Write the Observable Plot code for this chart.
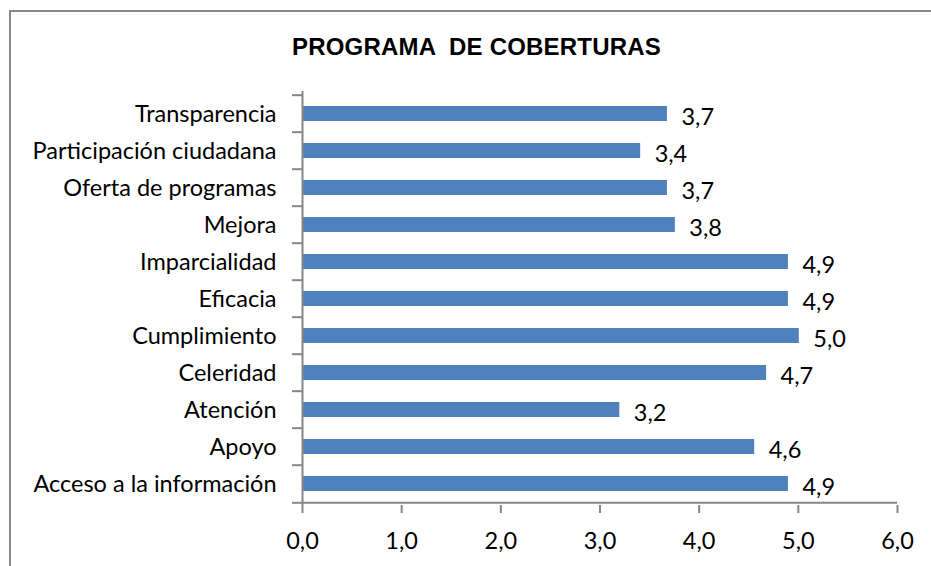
<!DOCTYPE html>
<html>
<head>
<meta charset="utf-8">
<script src="https://cdn.jsdelivr.net/npm/d3@7"></script>
<script src="https://cdn.jsdelivr.net/npm/@observablehq/plot@0.6"></script>
<style>
  html, body { margin: 0; padding: 0; background: #fff; }
  #wrap { position: relative; width: 931px; height: 566px; overflow: hidden; }
  #border { position: absolute; left: 9px; top: 10px; width: 1000px; height: 700px;
            border-left: 2px solid #878787; border-top: 2px solid #878787; box-sizing: border-box; }
  #title { position: absolute; left: 0; width: 953px; top: 33px; text-align: center;
           font-family: "Liberation Sans", Arial, sans-serif; font-weight: bold; font-size: 24px;
           letter-spacing: 0.2px; color: #000; white-space: pre; line-height: 28px; }
  #chart { position: absolute; left: 0; top: 0; }
</style>
</head>
<body>
<div id="wrap">
  <div id="border"></div>
  <div id="title"></div>
  <div id="chart"></div>
</div>
<script>
const title = "PROGRAMA  DE COBERTURAS";
const categories = [
  "Transparencia",
  "Participación ciudadana",
  "Oferta de programas",
  "Mejora",
  "Imparcialidad",
  "Eficacia",
  "Cumplimiento",
  "Celeridad",
  "Atención",
  "Apoyo",
  "Acceso a la información"
];
const values = [3.68, 3.41, 3.68, 3.76, 4.90, 4.90, 5.01, 4.68, 3.20, 4.56, 4.90];
const xTicks = [0, 1, 2, 3, 4, 5, 6];

document.getElementById("title").textContent = title;

const data = categories.map((c, i) => ({category: c, value: values[i]}));
const fmt = v => v.toFixed(1).replace(".", ",");

const W = 931, H = 566, mL = 302, mR = 34, mT = 91, mB = 61;
const step = (H - mT - mB) / categories.length;
const axisGray = "#868686";
const last = categories[categories.length - 1];

const chart = Plot.plot({
  width: W, height: H,
  marginLeft: mL, marginRight: mR, marginTop: mT, marginBottom: mB,
  style: {fontFamily: "Lato, sans-serif", fontSize: "24px", color: "#000", background: "transparent"},
  x: {domain: [xTicks[0], xTicks[xTicks.length - 1]], label: null},
  y: {domain: categories, paddingInner: 0.6, paddingOuter: 0.3, label: null},
  marks: [
    Plot.barX(data, {x: "value", y: "category", fill: "#4F81BD"}),
    Plot.ruleX([xTicks[0]], {stroke: axisGray, strokeWidth: 2}),
    Plot.ruleY([last], {x1: xTicks[0], x2: xTicks[xTicks.length - 1], dy: step / 2, stroke: axisGray, strokeWidth: 2}),
    Plot.axisY({tickSize: 0, tickPadding: 26, fontSize: 23.5, fill: "#000"}),
    Plot.axisY(categories, {tickSize: 10, tickFormat: () => "", dy: -step / 2, stroke: axisGray, strokeWidth: 2}),
    Plot.axisY([last], {tickSize: 10, tickFormat: () => "", dy: step / 2, stroke: axisGray, strokeWidth: 2}),
    Plot.axisX(xTicks, {tickSize: 8, tickPadding: 19, tickFormat: fmt, fontSize: 23.5, stroke: axisGray, strokeWidth: 2, fill: "#000"}),
    Plot.text(data, {x: "value", y: "category", text: d => fmt(d.value), textAnchor: "start", dx: 14, dy: 3, fontSize: 23.5, fill: "#000"})
  ]
});
document.getElementById("chart").appendChild(chart);
</script>
</body>
</html>
